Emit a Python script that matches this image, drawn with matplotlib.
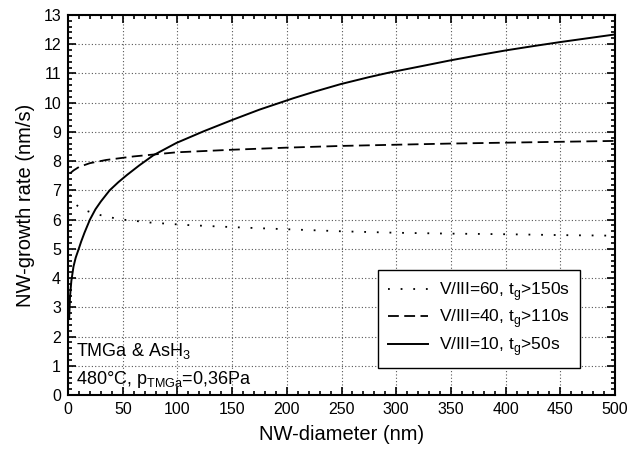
import matplotlib
matplotlib.use("Agg")
from matplotlib import pyplot as plt
from matplotlib.ticker import MultipleLocator

plt.rcParams['font.family'] = ['Liberation Sans', 'DejaVu Sans']
plt.rcParams['mathtext.fontset'] = 'custom'
plt.rcParams['mathtext.rm'] = 'Liberation Sans'

# values
d_60 = [1.5, 3.4, 6, 11, 17, 23, 35, 50, 75, 106, 140, 165, 200, 250, 300, 350, 400, 450, 500]
r_60 = [6.85, 6.72, 6.55, 6.4, 6.3, 6.22, 6.1, 6.0, 5.9, 5.82, 5.76, 5.72, 5.67, 5.6, 5.55, 5.52, 5.5, 5.47, 5.45]

d_40 = [1.8, 5, 10, 20, 35, 60, 99, 151, 200, 251, 300, 350, 400, 450, 500]
r_40 = [7.58, 7.68, 7.8, 7.93, 8.04, 8.16, 8.3, 8.39, 8.46, 8.52, 8.56, 8.6, 8.63, 8.66, 8.69]

d_10 = [1, 1.8, 3, 5, 7, 9.5, 12, 15, 20, 25, 30, 38, 46, 54, 65, 78, 99, 124, 151, 175, 206, 225, 249,
        275, 294, 325, 349, 375, 401, 425, 450, 475, 500]
r_10 = [2.6, 3.36, 3.9, 4.4, 4.7, 4.97, 5.25, 5.55, 6.0, 6.35, 6.62, 7.0, 7.28, 7.53, 7.85, 8.2, 8.62,
        9.02, 9.42, 9.76, 10.15, 10.37, 10.63, 10.87, 11.03, 11.26, 11.44, 11.62, 11.79, 11.93, 12.07,
        12.2, 12.33]

labels = [r'V/III=60, t$_\mathregular{g}$>150s',
          r'V/III=40, t$_\mathregular{g}$>110s',
          r'V/III=10, t$_\mathregular{g}$>50s']

fig = plt.figure(figsize=(6.42, 4.5), dpi=100)
ax = fig.add_axes([0.106, 0.122, 0.852, 0.845])

ax.plot(d_60, r_60, color='black', lw=1.3, linestyle=(0, (1, 6)), label=labels[0])
ax.plot(d_40, r_40, color='black', lw=1.3, linestyle=(0, (6, 3)), label=labels[1])
ax.plot(d_10, r_10, color='black', lw=1.4, linestyle='-', label=labels[2])

ax.set_xlim(0, 500)
ax.set_ylim(0, 13)
ax.xaxis.set_major_locator(MultipleLocator(50))
ax.xaxis.set_minor_locator(MultipleLocator(10))
ax.yaxis.set_major_locator(MultipleLocator(1))
ax.yaxis.set_minor_locator(MultipleLocator(0.2))
ax.tick_params(which='both', direction='in', top=True, right=True, labelsize=11.5, width=1.2)
ax.tick_params(which='major', length=6, pad=5)
ax.tick_params(which='minor', length=3)
for s in ax.spines.values():
    s.set_linewidth(1.5)

ax.grid(True, which='major', linestyle=(0, (1, 2)), color='#555555', lw=0.8)

ax.set_xlabel('NW-diameter (nm)', fontsize=14.5, labelpad=6)
ax.set_ylabel('NW-growth rate (nm/s)', fontsize=14.5, labelpad=6)

ax.text(7.5, 1.34, r'TMGa & AsH$_\mathregular{3}$', fontsize=13, va='baseline')
ax.text(7.5, 0.38, r'480°C, p$_\mathregular{TMGa}$=0,36Pa', fontsize=13, va='baseline')

leg = ax.legend(loc='lower right', bbox_to_anchor=(0.936, 0.071), borderaxespad=0,
                fontsize=12.5, frameon=True, fancybox=False, edgecolor='black',
                handlelength=2.3, handletextpad=0.6, labelspacing=0.25, borderpad=0.6)
leg.get_frame().set_linewidth(1.0)
leg.get_frame().set_alpha(1)

fig.savefig('out.png', dpi=100)
